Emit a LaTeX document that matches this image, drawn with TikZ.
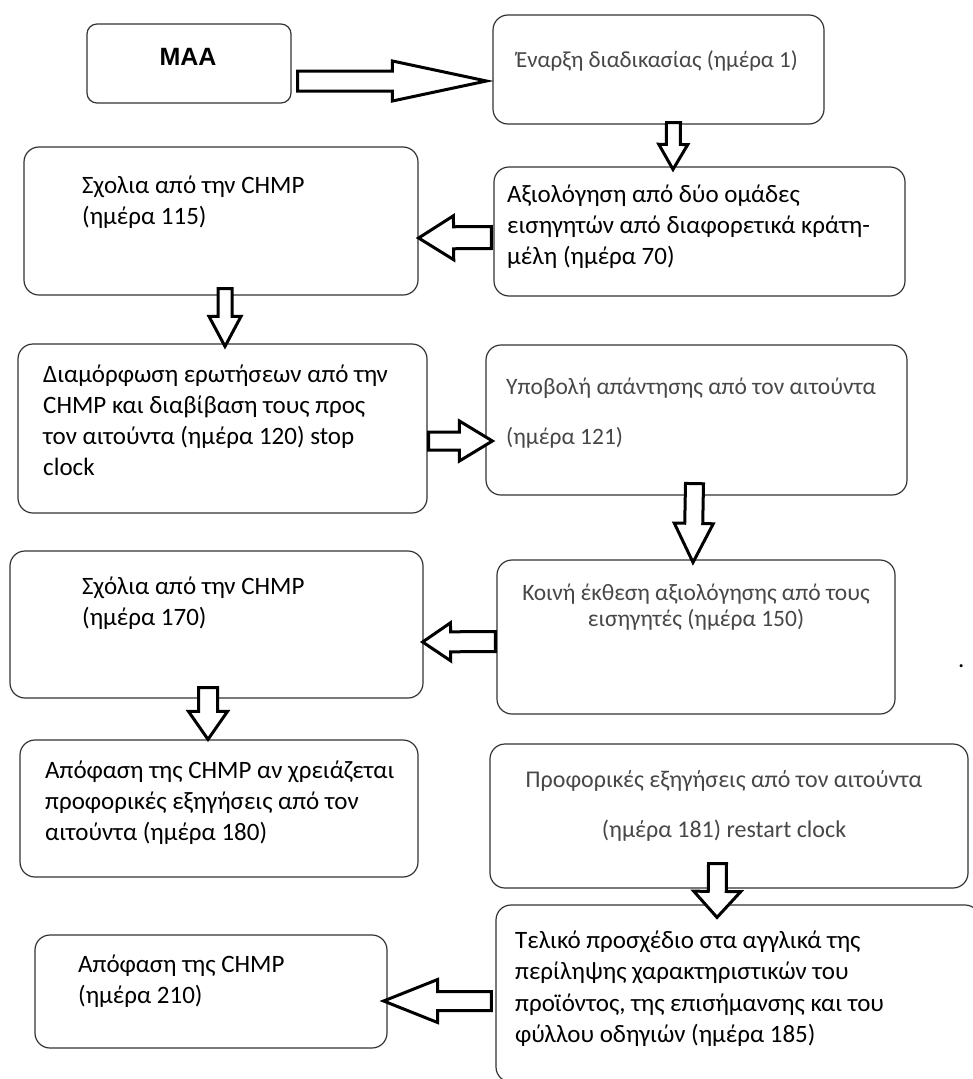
\documentclass[tikz,border=0pt]{standalone}
\usepackage{fontspec}
\setmainfont{Carlito}
\newfontfamily\maafont{Liberation Sans}
\usetikzlibrary{calc}

\begin{document}
\begin{tikzpicture}
  [x=1pt,y=-1pt,
   box/.style={draw=black!80,line width=1.2pt,rounded corners=15pt},
   txt/.style={inner sep=0pt,align=left,anchor=base west,font=\fontsize{25}{31}\selectfont},
   lighttxt/.style={txt,align=center,anchor=base,text=black!72,font=\fontsize{23.5}{26}\selectfont},
   blockarrow/.style n args={3}{draw=black,fill=white,line width=3pt,line join=miter,
     to path={let \p1=($(\tikztotarget)-(\tikztostart)$),\n1={atan2(\y1,\x1)},\n2={veclen(\x1,\y1)} in
       ([shift={(\tikztostart)},rotate=\n1]0pt,#1) -- ([shift={(\tikztostart)},rotate=\n1]\n2-#3,#1)
       -- ([shift={(\tikztostart)},rotate=\n1]\n2-#3,#2) -- ([shift={(\tikztostart)},rotate=\n1]\n2,0pt)
       -- ([shift={(\tikztostart)},rotate=\n1]\n2-#3,-#2) -- ([shift={(\tikztostart)},rotate=\n1]\n2-#3,-#1)
       -- ([shift={(\tikztostart)},rotate=\n1]0pt,-#1) -- cycle}}]
  \useasboundingbox (0,0) rectangle (973,1079);
  \clip (0,0) rectangle (973,1079);

  % boxes
  \node[box,rounded corners=10pt,minimum width=204pt,minimum height=79pt] (maa) at (189,63.5) {};
  \node[box,minimum width=331pt,minimum height=109pt] (start) at (658.5,69.5) {};
  \node[box,minimum width=411pt,minimum height=129pt] (eval) at (699.5,231.5) {};
  \node[box,minimum width=394pt,minimum height=148pt] (com115) at (221,221) {};
  \node[box,minimum width=409pt,minimum height=169pt] (quest) at (222.5,428.5) {};
  \node[box,minimum width=421pt,minimum height=150pt] (reply) at (696.5,420) {};
  \node[box,minimum width=398pt,minimum height=154pt] (report) at (696,637) {};
  \node[box,minimum width=413pt,minimum height=147pt] (com170) at (216.5,624.5) {};
  \node[box,minimum width=398pt,minimum height=137pt] (dec180) at (219,808.5) {};
  \node[box,minimum width=478pt,minimum height=144pt] (oral) at (729,816) {};
  \node[box,minimum width=484pt,minimum height=177pt] (draft) at (738,993.5) {};
  \node[box,minimum width=352pt,minimum height=113pt] (dec210) at (211,991.5) {};

  % texts (base = last line)
  \node[inner sep=0pt,anchor=base,font=\maafont\bfseries\fontsize{25}{30}\selectfont] (maa-t) at (188,65) {MAA};
  \node[lighttxt,font=\fontsize{23}{26}\selectfont] (start-t) at (657,67) {Έναρξη διαδικασίας (ημέρα 1)};
  \node[txt] (eval-t) at (507,264) {Αξιολόγηση από δύο ομάδες\\εισηγητών από διαφορετικά κράτη-\\μέλη (ημέρα 70)};
  \node[txt] (com115-t) at (82,224) {Σχολια από την CHMP\\(ημέρα 115)};
  \node[txt] (quest-t) at (43,475) {Διαμόρφωση ερωτήσεων από την\\CHMP και διαβίβαση τους προς\\τον αιτούντα (ημέρα 120) stop\\clock};
  \node[lighttxt,align=left,anchor=base west,font=\fontsize{23.5}{50}\selectfont] (reply-t) at (506,444) {Υποβολή απάντησης από τον αιτούντα\\(ημέρα 121)};
  \node[lighttxt] (report-t) at (696,626) {Κοινή έκθεση αξιολόγησης από τους\\εισηγητές (ημέρα 150)};
  \node[txt] (com170-t) at (82,625) {Σχόλια από την CHMP\\(ημέρα 170)};
  \node[txt] (dec180-t) at (45,840) {Απόφαση της CHMP αν χρειάζεται\\προφορικές εξηγήσεις από τον\\αιτούντα (ημέρα 180)};
  \node[lighttxt,font=\fontsize{24}{50}\selectfont] (oral-t) at (724,837) {Προφορικές εξηγήσεις από τον αιτούντα\\(ημέρα 181) restart clock};
  \node[txt,font=\fontsize{25}{31.5}\selectfont] (draft-t) at (515,1042.5) {Τελικό προσχέδιο στα αγγλικά της\\περίληψης χαρακτηριστικών του\\προϊόντος, της επισήμανσης και του\\φύλλου οδηγιών (ημέρα 185)};
  \node[txt] (dec210-t) at (78,1003) {Απόφαση της CHMP\\(ημέρα 210)};
  \node[txt] (dot) at (958,667) {.};

  % block arrows
  \draw[blockarrow={10pt}{20pt}{94pt}] ([xshift=6pt,yshift=-17.5pt]maa.east) to ([xshift=-6pt,yshift=-11.5pt]start.west);
  \draw[blockarrow={7pt}{14.5pt}{25pt}] ([xshift=15pt,yshift=2pt]start.south) to ([xshift=-26.5pt,yshift=-3pt]eval.north);
  \draw[blockarrow={11pt}{22pt}{35pt}] ([xshift=-2pt,yshift=-6pt]eval.west) to ([yshift=-17pt]com115.east);
  \draw[blockarrow={7pt}{16pt}{30pt}] ([xshift=4pt,yshift=7pt]com115.south) to ([xshift=2.5pt,yshift=-3pt]quest.north);
  \draw[blockarrow={9pt}{20pt}{33pt}] ([xshift=1pt,yshift=-12.5pt]quest.east) to ([xshift=7pt,yshift=-21pt]reply.west);
  \draw[blockarrow={9pt}{19.5pt}{39pt}] ([xshift=-2pt,yshift=12pt]reply.south) to ([xshift=-3pt,yshift=-3pt]report.north);
  \draw[blockarrow={10pt}{19pt}{28pt}] ([xshift=-1pt,yshift=-4.5pt]report.west) to ([xshift=-1pt,yshift=-17.5pt]com170.east);
  \draw[blockarrow={9.5pt}{19.5pt}{28pt}] ([xshift=-8.5pt,yshift=11pt]com170.south) to ([xshift=-11pt]dec180.north);
  \draw[blockarrow={9pt}{23.5pt}{26pt}] ([xshift=-11.5pt,yshift=25pt]oral.south) to ([xshift=-21pt,yshift=-13pt]draft.north);
  \draw[blockarrow={9.5pt}{21.5pt}{54pt}] ([xshift=-4pt,yshift=-7.5pt]draft.west) to ([xshift=-4pt,yshift=-9.5pt]dec210.east);

\end{tikzpicture}
\end{document}
